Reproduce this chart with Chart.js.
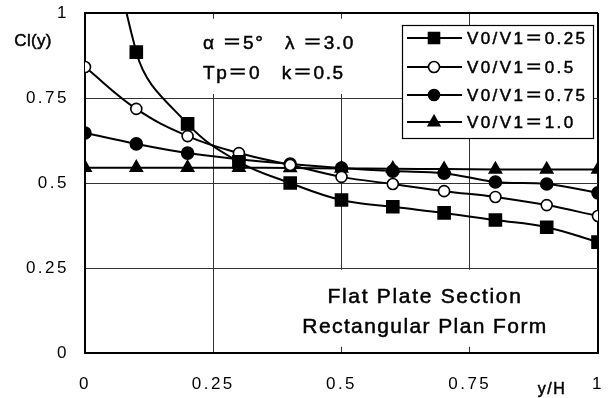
<!DOCTYPE html>
<html>
<head>
<meta charset="utf-8">
<script src="https://cdn.jsdelivr.net/npm/chart.js@4/dist/chart.umd.min.js"></script>
<style>
  html, body { margin: 0; padding: 0; background: #fff; }
  #wrap { width: 610px; height: 398px; }
</style>
</head>
<body>
<div id="wrap"><canvas id="chartCl"></canvas></div>
<script>
// spanwise position y/H
const yPos = [0, 0.1, 0.2, 0.3, 0.4, 0.5, 0.6, 0.7, 0.8, 0.9, 1.0];

// Cl(y) for each velocity ratio V0/V1
const cl025 = [1.8, 0.885, 0.674, 0.562, 0.5, 0.45, 0.43, 0.412, 0.391, 0.37, 0.326];
const cl050 = [0.841, 0.718, 0.638, 0.588, 0.553, 0.518, 0.497, 0.476, 0.459, 0.435, 0.403];
const cl075 = [0.647, 0.615, 0.588, 0.57, 0.556, 0.544, 0.535, 0.529, 0.503, 0.497, 0.471];
const cl100 = [0.545, 0.545, 0.545, 0.545, 0.544, 0.543, 0.542, 0.541, 0.54, 0.54, 0.54];

const seriesLabels = ["V0/V1＝0.25", "V0/V1＝0.5", "V0/V1＝0.75", "V0/V1＝1.0"];
const xTicks = [0, 0.25, 0.5, 0.75, 1];
const yTicks = [0, 0.25, 0.5, 0.75, 1];

const FONT = "'Liberation Sans', Arial, 'Noto Sans CJK JP', sans-serif";

function toPoints(vals) {
    return yPos.map((x, i) => ({ x, y: vals[i] }));
}

function series(label, vals, style, radius, fill) {
    return {
        label,
        data: toPoints(vals),
        borderColor: "#000",
        borderWidth: 2,
        tension: 0.4,
        pointStyle: style,
        pointRadius: radius,
        pointBackgroundColor: fill,
        pointBorderColor: "#000",
        pointBorderWidth: 1.6
    };
}

// small marker for the hand drawn legend
function marker(ctx, style, fill, x, y) {
    ctx.save();
    ctx.fillStyle = fill;
    ctx.strokeStyle = "#000";
    ctx.lineWidth = 1.6;
    ctx.beginPath();
    if (style === "rect") {
        ctx.rect(x - 5.5, y - 5.5, 11, 11);
    } else if (style === "triangle") {
        ctx.moveTo(x, y - 6.5);
        ctx.lineTo(x + 5.8, y + 3.7);
        ctx.lineTo(x - 5.8, y + 3.7);
        ctx.closePath();
    } else {
        ctx.arc(x, y, 5.5, 0, Math.PI * 2);
    }
    ctx.fill();
    ctx.stroke();
    ctx.restore();
}

function label(ctx, text, x, y, size, align, spacing) {
    ctx.save();
    ctx.font = size + "px " + FONT;
    ctx.letterSpacing = spacing + "px";
    ctx.fillStyle = "#000";
    ctx.strokeStyle = "#000";
    ctx.lineWidth = 0.5;
    ctx.textAlign = align;
    ctx.textBaseline = "middle";
    ctx.fillText(text, x, y);
    ctx.strokeText(text, x, y);
    ctx.restore();
}

const overlay = {
    id: "overlay",
    beforeDraw(chart) {
        chart.ctx.letterSpacing = "2.5px";
    },
    beforeDatasetsDraw(chart) {
        const { ctx, scales: { x, y } } = chart;
        ctx.save();
        ctx.fillStyle = "#fff";
        // blank panels behind the two text blocks
        ctx.fillRect(x.getPixelForValue(0.215), y.getPixelForValue(0.983),
            x.getPixelForValue(0.618) - x.getPixelForValue(0.215),
            y.getPixelForValue(0.762) - y.getPixelForValue(0.983));
        ctx.fillRect(x.getPixelForValue(0.365), y.getPixelForValue(0.245),
            x.getPixelForValue(0.997) - x.getPixelForValue(0.365),
            y.getPixelForValue(0.018) - y.getPixelForValue(0.245));
        ctx.restore();
    },
    afterDatasetsDraw(chart) {
        const ctx = chart.ctx;
        ctx.letterSpacing = "0px";

        // legend box
        ctx.save();
        ctx.fillStyle = "#fff";
        ctx.strokeStyle = "#000";
        ctx.lineWidth = 1.2;
        ctx.fillRect(402, 25, 191, 113);
        ctx.strokeRect(402.5, 25.5, 191, 113);
        ctx.restore();

        const rows = [38, 67, 95, 122];
        chart.data.datasets.forEach((ds, i) => {
            const ry = rows[i];
            ctx.save();
            ctx.strokeStyle = "#000";
            ctx.lineWidth = 2;
            ctx.beginPath();
            ctx.moveTo(407, ry);
            ctx.lineTo(462, ry);
            ctx.stroke();
            ctx.restore();
            marker(ctx, ds.pointStyle, ds.pointBackgroundColor, 434, ry);
            label(ctx, ds.label, 467, ry + 1, 17, "left", 2.4);
        });

        label(ctx, "α ＝5°   λ ＝3.0", 203, 44, 19, "left", 1.6);
        label(ctx, "Tp＝0   k＝0.5", 203, 74, 19, "left", 1.6);
        label(ctx, "Flat Plate Section", 425, 297, 21, "center", 1.7);
        label(ctx, "Rectangular Plan Form", 425, 327, 21, "center", 1.4);
        label(ctx, "Cl(y)", 33, 41, 17, "center", 0.3);
        label(ctx, "y/H", 552, 390, 16, "center", 1.5);
    }
};

const edgeColor = (ctx) => (ctx.tick && ctx.tick.value === 1 ? "#000" : "#333");
const edgeWidth = (ctx) => (ctx.tick && ctx.tick.value === 1 ? 2 : 1);

new Chart(document.getElementById("chartCl"), {
    type: "line",
    data: {
        datasets: [
            series(seriesLabels[0], cl025, "rect", 8.5, "#000"),
            series(seriesLabels[1], cl050, "circle", 5.5, "#fff"),
            series(seriesLabels[2], cl075, "circle", 6, "#000"),
            series(seriesLabels[3], cl100, "triangle", 7, "#000")
        ]
    },
    options: {
        responsive: true,
        maintainAspectRatio: false,
        animation: false,
        layout: { padding: { left: 0, top: 13, right: 12, bottom: 0 } },
        plugins: {
            legend: { display: false },
            tooltip: { enabled: false }
        },
        scales: {
            x: {
                type: "linear",
                min: 0,
                max: 1,
                afterFit: (s) => { s.height = 45; s.paddingLeft = 0; s.paddingRight = 0; },
                afterBuildTicks: (s) => { s.ticks = xTicks.map(v => ({ value: v })); },
                grid: { color: edgeColor, lineWidth: edgeWidth, drawTicks: false },
                border: { color: "#000", width: 2 },
                ticks: {
                    padding: 21,
                    color: "#000",
                    font: { family: FONT, size: 17 },
                    callback: (v) => String(v)
                }
            },
            y: {
                min: 0,
                max: 1,
                afterFit: (s) => { s.width = 85; s.paddingTop = 0; s.paddingBottom = 0; },
                afterBuildTicks: (s) => { s.ticks = yTicks.map(v => ({ value: v })); },
                grid: { color: edgeColor, lineWidth: edgeWidth, drawTicks: false },
                border: { color: "#000", width: 2 },
                ticks: {
                    padding: 16,
                    color: "#000",
                    font: { family: FONT, size: 17 },
                    callback: (v) => String(v)
                }
            }
        }
    },
    plugins: [overlay]
});
</script>
</body>
</html>
